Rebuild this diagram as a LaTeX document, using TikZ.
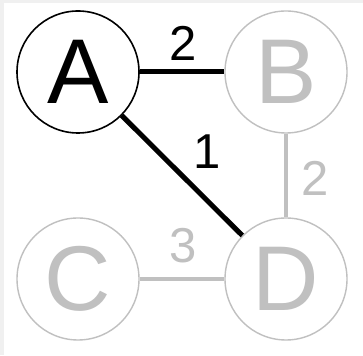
\documentclass[tikz,border=0pt]{standalone}
\usepackage{fontspec}
\setmainfont{Liberation Sans}
\definecolor{faded}{RGB}{192,192,192}
\definecolor{frame}{RGB}{240,240,240}
\tikzset{
  vtx/.style={circle, minimum size=122pt, inner sep=0pt, font=\fontsize{92}{92}\selectfont},
  vtxon/.style={vtx, draw=black, line width=1.6pt, text=black},
  vtxoff/.style={vtx, draw=faded, line width=1.4pt, text=faded},
  edgeon/.style={draw=black, line width=5pt},
  edgeoff/.style={draw=faded, line width=4pt},
  wgt/.style={inner sep=0pt, font=\fontsize{49}{49}\selectfont},
}
\begin{document}
\begin{tikzpicture}[x=1pt, y=1pt]
  % page background with a thin light frame on the top and left
  \fill[frame] (0,0) rectangle (363,355);
  \fill[white] (4,0) rectangle (363,352);
  \useasboundingbox (0,0) rectangle (363,355);

  % vertices
  \node[vtxon]  (A) at (78,283) {A};
  \node[vtxoff] (B) at (286,283) {B};
  \node[vtxoff] (C) at (78,76) {C};
  \node[vtxoff] (D) at (286,76) {D};

  % edges
  \draw[edgeoff] (B) -- (D);
  \draw[edgeoff] (C.east) -- (D.west);
  \draw[edgeon] (A) -- (B);
  \draw[edgeon] (A) -- (D);

  % edge weights
  \node[wgt, text=black] (wAB) at (183,312) {2};
  \node[wgt, text=black] (wAD) at (207,203) {1};
  \node[wgt, text=faded] (wBD) at (315,177) {2};
  \node[wgt, text=faded] (wCD) at (183,109) {3};
\end{tikzpicture}
\end{document}
